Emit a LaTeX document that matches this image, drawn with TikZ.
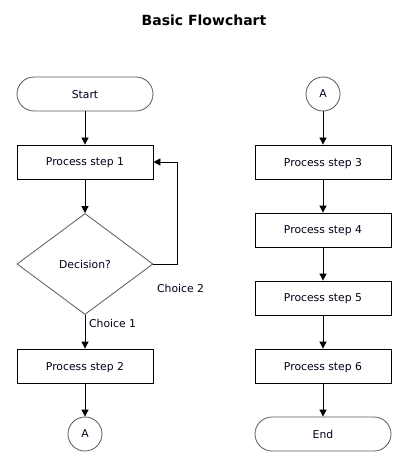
\documentclass[tikz,border=0pt]{standalone}
\usepackage{fontspec}
\setmainfont{DejaVu Sans}
\usetikzlibrary{shapes.geometric,arrows.meta}
\begin{document}
\begin{tikzpicture}[x=1pt,y=-1pt,
  every node/.style={font=\fontsize{10.8}{12}\selectfont, text=black!90!blue},
  procbox/.style={draw=black, line width=0.8pt, minimum width=136pt, minimum height=34pt, inner sep=0pt, text depth=0pt},
  termbox/.style={draw=black!65, line width=0.8pt, rounded corners=17pt, minimum width=136pt, minimum height=34pt, inner sep=0pt, text depth=0pt},
  decbox/.style={draw=black!65, shape=diamond, line width=0.8pt, minimum width=136pt, minimum height=101pt, inner sep=0pt, text depth=0pt},
  connbox/.style={draw=black!65, shape=circle, line width=0.8pt, minimum size=34pt, inner sep=0pt},
  flow/.style={draw=black, line width=0.8pt, -{Triangle[length=7pt,width=7pt]}},
  lbl/.style={inner sep=0pt}
]
\useasboundingbox (0,0) rectangle (419,473);
\node[font=\bfseries\fontsize{14}{16}\selectfont, text=black] (title) at (204,20) {Basic Flowchart};

\node[termbox] (start) at (85,94) {Start};
\node[procbox] (p1) at (85,162) {Process step 1};
\node[decbox] (dec) at (85,264) {Decision?};
\node[procbox] (p2) at (85,366) {Process step 2};
\node[connbox] (a1) at (85,434) {A};

\node[connbox] (a2) at (323,94) {A};
\node[procbox] (p3) at (323,162) {Process step 3};
\node[procbox] (p4) at (323,230) {Process step 4};
\node[procbox] (p5) at (323,298) {Process step 5};
\node[procbox] (p6) at (323,366) {Process step 6};
\node[termbox] (end) at (323,434) {End};

\coordinate (fbr) at (177,264);
\coordinate (fbt) at (177,162);

\draw[flow] (start) -- (p1);
\draw[flow] (p1) -- (dec);
\draw[flow] (dec) -- (p2);
\draw[flow] (p2) -- (a1);
\draw[flow] (dec.east) -- (fbr) -- (fbt) -- (p1.east);

\draw[flow] (a2) -- (p3);
\draw[flow] (p3) -- (p4);
\draw[flow] (p4) -- (p5);
\draw[flow] (p5) -- (p6);
\draw[flow] (p6) -- (end);

\node[lbl, anchor=west] (c2) at (157,288) {Choice 2};
\node[lbl, anchor=west] (c1) at (89,323) {Choice 1};
\end{tikzpicture}
\end{document}
